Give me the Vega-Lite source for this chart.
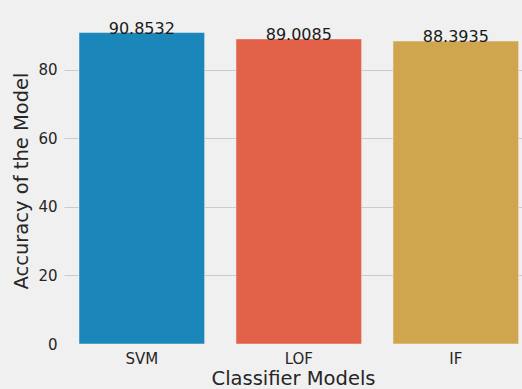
{
  "$schema": "https://vega.github.io/schema/vega-lite/v6.json",
  "autosize": "none",
  "width": 458,
  "height": 327,
  "padding": {"left": 64, "top": 17, "right": 0, "bottom": 45},
  "background": "#f0f0f0",
  "config": {
    "font": "DejaVu Sans",
    "view": {"stroke": null, "fill": "#f0f0f0"},
    "axis": {"domain": false, "ticks": false, "labelColor": "#262626", "titleColor": "#262626", "labelFontSize": 15, "titleFontSize": 19.5, "titleFontWeight": "normal", "gridColor": "#cbcbcb", "gridWidth": 1.2}
  },
  "data": {"values": [
    {"model": "SVM", "accuracy": 90.8532},
    {"model": "LOF", "accuracy": 89.0085},
    {"model": "IF", "accuracy": 88.3935}
  ]},
  "encoding": {
    "x": {"field": "model", "type": "nominal", "sort": null,
      "scale": {"paddingInner": 0.2, "paddingOuter": 0.0586, "align": 0.815},
      "axis": {"title": "Classifier Models", "labelAngle": 0, "labelPadding": 7, "titlePadding": 3, "grid": false}},
    "y": {"field": "accuracy", "type": "quantitative",
      "scale": {"domain": [0, 95.396], "nice": false, "zero": true},
      "axis": {"title": "Accuracy of the Model", "values": [0, 20, 40, 60, 80], "labelPadding": 7, "titlePadding": 6, "grid": true,
        "gridOpacity": {"condition": {"test": "datum.value === 0", "value": 0}, "value": 1}}}
  },
  "layer": [
    {"mark": {"type": "bar", "stroke": "#f0f0f0", "strokeWidth": 0.5},
     "encoding": {"color": {"field": "model", "type": "nominal", "sort": null, "legend": null,
       "scale": {"domain": ["SVM", "LOF", "IF"], "range": ["#1b86ba", "#e26149", "#cfa64e"]}}}},
    {"mark": {"type": "text", "baseline": "alphabetic", "dy": 1, "fontSize": 16, "color": "#1a1a1a"},
     "encoding": {"text": {"field": "accuracy", "type": "quantitative", "format": ".4f"}}}
  ]
}
